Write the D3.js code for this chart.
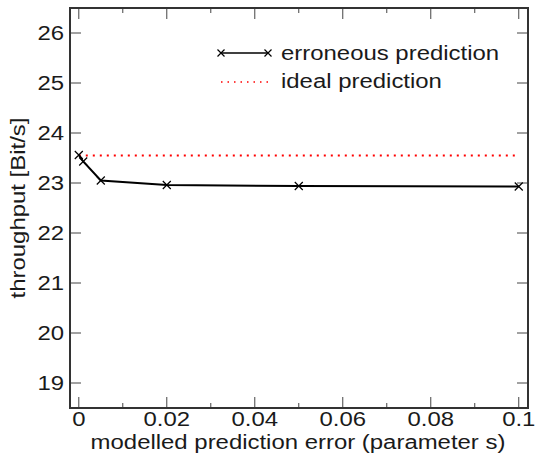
<!DOCTYPE html>
<html>
<head>
<meta charset="utf-8">
<script src="https://cdn.jsdelivr.net/npm/d3@7"></script>
<style>
  body { margin: 0; background: #fff; }
  svg { display: block; font-family: "Liberation Sans", Arial, Helvetica, sans-serif; }
</style>
</head>
<body>
<script>
const width = 535;
const height = 462;
const margin = { top: 8, right: 7, bottom: 54, left: 70 };
const fontSize = 21;
const stretch = 1.14;

// data
const errorParam = [0, 0.001, 0.005, 0.02, 0.05, 0.1];
const erroneousThroughput = [23.56, 23.43, 23.05, 22.96, 22.94, 22.93];
const idealThroughput = 23.55;
const xTicks = [0, 0.02, 0.04, 0.06, 0.08, 0.1];
const xMinorTicks = [0.01, 0.03, 0.05, 0.07, 0.09];
const yTicks = [19, 20, 21, 22, 23, 24, 25, 26];
const seriesNames = ['erroneous prediction', 'ideal prediction'];

const svg = d3.select('body').append('svg')
  .attr('width', width)
  .attr('height', height);

const x = d3.scaleLinear()
  .domain([-0.002, 0.1021])
  .range([margin.left, width - margin.right]);

const y = d3.scaleLinear()
  .domain([18.5, 26.5])
  .range([height - margin.bottom, margin.top]);

const x0 = margin.left, x1 = width - margin.right;
const y0 = height - margin.bottom, y1 = margin.top;

const fmtX = d => d === 0 ? '0' : d3.format('~g')(d);

// text in the original is a bit wider than Liberation Sans
const label = (sel, tx, ty, str, anchor, rot) => {
  sel.append('text')
    .attr('transform', `translate(${tx},${ty})${rot ? ' rotate(' + rot + ')' : ''} scale(${stretch},1)`)
    .attr('text-anchor', anchor)
    .attr('font-size', fontSize)
    .attr('fill', '#1a1a1a')
    .text(str);
};

// ticks, drawn inward on all four sides
const tickColor = '#444';
const g = svg.append('g');

xTicks.forEach(t => {
  g.append('line').attr('x1', x(t)).attr('x2', x(t)).attr('y1', y0).attr('y2', y0 - 11)
    .attr('stroke', tickColor).attr('stroke-width', 1);
  g.append('line').attr('x1', x(t)).attr('x2', x(t)).attr('y1', y1).attr('y2', y1 + 11)
    .attr('stroke', tickColor).attr('stroke-width', 1);
});
xMinorTicks.forEach(t => {
  g.append('line').attr('x1', x(t)).attr('x2', x(t)).attr('y1', y0).attr('y2', y0 - 5)
    .attr('stroke', tickColor).attr('stroke-width', 1);
  g.append('line').attr('x1', x(t)).attr('x2', x(t)).attr('y1', y1).attr('y2', y1 + 5)
    .attr('stroke', tickColor).attr('stroke-width', 1);
});
yTicks.forEach(t => {
  g.append('line').attr('x1', x0).attr('x2', x0 + 11).attr('y1', y(t)).attr('y2', y(t))
    .attr('stroke', tickColor).attr('stroke-width', 1);
  g.append('line').attr('x1', x1).attr('x2', x1 - 11).attr('y1', y(t)).attr('y2', y(t))
    .attr('stroke', tickColor).attr('stroke-width', 1);
});

// tick labels
const tl = svg.append('g');
xTicks.forEach(t => label(tl, x(t), y0 + 17.5, fmtX(t), 'middle'));
yTicks.forEach(t => label(tl, x0 - 6, y(t) + 7, t, 'end'));

// axis titles
label(svg, 298, 449, 'modelled prediction error (parameter s)', 'middle');
label(svg, 25, (y0 + y1) / 2, 'throughput [Bit/s]', 'middle', -90);

// ideal prediction line
svg.append('line')
  .attr('x1', x(errorParam[0]))
  .attr('x2', x(errorParam[errorParam.length - 1]))
  .attr('y1', y(idealThroughput))
  .attr('y2', y(idealThroughput))
  .attr('stroke', '#f00')
  .attr('stroke-width', 2)
  .attr('stroke-dasharray', '2,5');

// erroneous prediction line
const line = d3.line()
  .x((d, i) => x(errorParam[i]))
  .y(d => y(d));

svg.append('path')
  .datum(erroneousThroughput)
  .attr('d', line)
  .attr('fill', 'none')
  .attr('stroke', '#000')
  .attr('stroke-width', 2);

const cross = (sel, cx, cy, r) => {
  sel.append('path')
    .attr('d', `M${cx - r},${cy - r}L${cx + r},${cy + r}M${cx - r},${cy + r}L${cx + r},${cy - r}`)
    .attr('stroke', '#000')
    .attr('stroke-width', 1.2)
    .attr('fill', 'none');
};

const markers = svg.append('g');
erroneousThroughput.forEach((v, i) => cross(markers, x(errorParam[i]), y(v), 4));

// legend
const legend = svg.append('g');
legend.append('line')
  .attr('x1', 221).attr('x2', 268).attr('y1', 53).attr('y2', 53)
  .attr('stroke', '#000').attr('stroke-width', 1.5);
cross(legend, 221, 53, 3.5);
cross(legend, 268, 53, 3.5);
label(legend, 281, 59.5, seriesNames[0], 'start');

legend.append('line')
  .attr('x1', 221).attr('x2', 268).attr('y1', 82).attr('y2', 82)
  .attr('stroke', '#f00').attr('stroke-width', 1.5)
  .attr('stroke-dasharray', '1.5,5');
label(legend, 281, 88, seriesNames[1], 'start');

// frame
svg.append('rect')
  .attr('x', x0).attr('y', y1)
  .attr('width', x1 - x0).attr('height', y0 - y1)
  .attr('fill', 'none')
  .attr('stroke', '#333')
  .attr('stroke-width', 2);
</script>
</body>
</html>
